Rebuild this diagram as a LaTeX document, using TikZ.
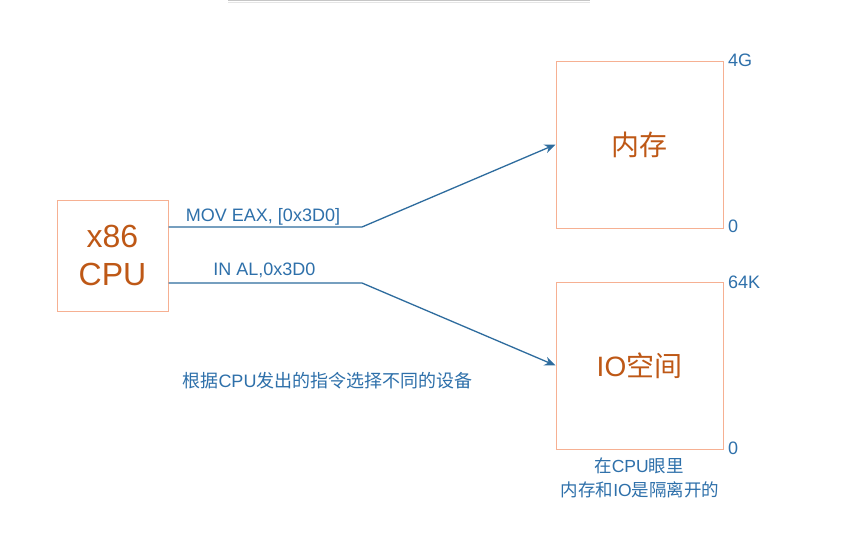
\documentclass[tikz,border=0pt]{standalone}
\usepackage{fontspec}
\setmainfont{Liberation Sans}
\newfontfamily\cjk{Noto Sans CJK SC}
\usetikzlibrary{arrows.meta}
\definecolor{boxline}{RGB}{246,176,146}
\definecolor{boxtext}{RGB}{190,88,22}
\definecolor{bluetext}{RGB}{46,112,170}
\definecolor{blueline}{RGB}{46,108,158}
\tikzset{
  devbox/.style={draw=boxline, line width=1pt, inner sep=0pt, text=boxtext, align=center},
  conn/.style={draw=blueline, line width=1.3pt, -{Stealth[length=11pt,width=9pt]}},
  lbl/.style={text=bluetext, inner sep=0pt, font=\fontsize{18}{21}\selectfont},
}
\begin{document}
\begin{tikzpicture}[x=1pt,y=-1pt]
\useasboundingbox (0,0) rectangle (847,536);
\fill[white] (0,0) rectangle (847,536);
% faint top bar
\draw[gray!45, line width=2.5pt] (228,0) -- (590,0);
\draw[gray!20, line width=1pt] (228,2.2) -- (590,2.2);

\node[devbox, minimum width=111pt, minimum height=111pt, font=\fontsize{32}{38}\selectfont] (cpu) at (112.5,255.5) {x86\\CPU};
\node[devbox, minimum width=167pt, minimum height=167pt, font=\fontsize{28}{32}\selectfont] (mem) at (639.5,144.5) {\cjk 内存};
\node[devbox, minimum width=167pt, minimum height=167pt, font=\fontsize{28}{32}\selectfont] (io) at (639.5,365.5) {IO{\cjk 空间}};

\coordinate (bend1) at (362,227);
\coordinate (bend2) at (362,283);
\draw[conn] (cpu.east |- bend1) -- (bend1) -- (mem.west);
\draw[conn] (cpu.east |- bend2) -- (bend2) -- (io.west);

\node[lbl, anchor=base] (movlbl) at (263,221) {MOV EAX, [0x3D0]};
\node[lbl, anchor=base] (inlbl) at (264.5,275) {IN AL,0x3D0};

\node[lbl, anchor=west] (g4) at (728,60) {4G};
\node[lbl, anchor=west] (m0) at (728,226) {0};
\node[lbl, anchor=west] (k64) at (728,282) {64K};
\node[lbl, anchor=west] (i0) at (728,448) {0};

\node[lbl] (sel) at (327.5,381) {{\cjk 根据}CPU{\cjk 发出的指令选择不同的设备}};
\node[lbl, font=\fontsize{17.5}{21}\selectfont] (note1) at (639,466) {{\cjk 在}CPU{\cjk 眼里}};
\node[lbl, font=\fontsize{17.5}{21}\selectfont] (note2) at (640,490) {{\cjk 内存和}IO{\cjk 是隔离开的}};
\end{tikzpicture}
\end{document}
